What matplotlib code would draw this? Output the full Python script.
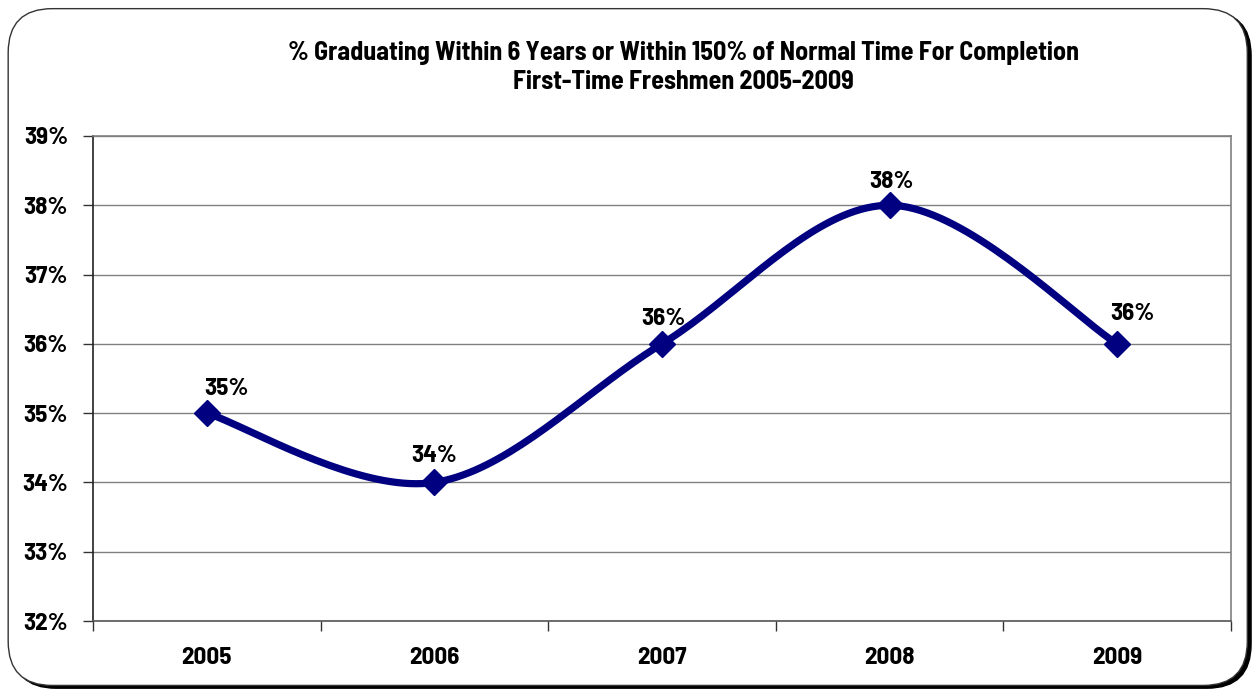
import numpy as np
import matplotlib.pyplot as plt
from matplotlib.patches import FancyBboxPatch
from matplotlib.ticker import FixedLocator, NullFormatter

# data
years = ['2005', '2006', '2007', '2008', '2009']
rates = [35, 34, 36, 38, 36]
y_ticks = [32, 33, 34, 35, 36, 37, 38, 39]
# label nudges in pixels (as placed in the original chart)
label_dx = [20, 0, 1, 2, 15]
label_dy = [24, 26, 25, 23, 30]

plt.rcParams['font.family'] = ['Liberation Sans Narrow', 'Barlow Semi Condensed', 'DejaVu Sans']
plt.rcParams['font.weight'] = 'bold'
FS = 18

fig = plt.figure(figsize=(12.58, 6.92), dpi=100)

# rounded frame with shadow
shadow = FancyBboxPatch((0.0095, 0.0055), 0.985, 0.978, boxstyle='round,pad=0,rounding_size=0.035',
                        transform=fig.transFigure, facecolor='black', edgecolor='black', zorder=0,
                        mutation_aspect=1258 / 692)
frame = FancyBboxPatch((0.0065, 0.0095), 0.985, 0.978, boxstyle='round,pad=0,rounding_size=0.035',
                       transform=fig.transFigure, facecolor='white', edgecolor='#333333', lw=1.0, zorder=1,
                       mutation_aspect=1258 / 692)
fig.patches.extend([shadow, frame])

ax = fig.add_axes([0.0739, 0.1026, 0.9046, 0.7009])
ax.set_zorder(2)
ax.patch.set_alpha(0)

x = np.arange(len(years))

# smooth curve like Excel (cubic bezier through points, catmull-rom control points)
def smooth(xs, ys, n=40):
    xs = np.asarray(xs, float)
    ys = np.asarray(ys, float)
    px, py = [], []
    for i in range(len(xs) - 1):
        p0 = np.array([xs[max(i - 1, 0)], ys[max(i - 1, 0)]])
        p1 = np.array([xs[i], ys[i]])
        p2 = np.array([xs[i + 1], ys[i + 1]])
        p3 = np.array([xs[min(i + 2, len(xs) - 1)], ys[min(i + 2, len(xs) - 1)]])
        c1 = p1 + (p2 - p0) / 6
        c2 = p2 - (p3 - p1) / 6
        t = np.linspace(0, 1, n)[:, None]
        b = (1 - t) ** 3 * p1 + 3 * (1 - t) ** 2 * t * c1 + 3 * (1 - t) * t ** 2 * c2 + t ** 3 * p2
        px.extend(b[:, 0])
        py.extend(b[:, 1])
    return np.array(px), np.array(py)

sx, sy = smooth(x, rates)
ax.plot(sx, sy, color='#000080', lw=5.2, solid_capstyle='round', zorder=3)
ax.plot(x, rates, linestyle='none', marker='D', ms=13, color='#000080', zorder=4)

for xi, r, dx, dy in zip(x, rates, label_dx, label_dy):
    ax.annotate(f'{r}%', (xi, r), xytext=(dx * 0.72, dy * 0.72), textcoords='offset points',
                ha='center', va='center', fontsize=FS, fontweight='bold')

ax.set_xlim(-0.5, len(years) - 0.5)
ax.set_ylim(32, 39)
ax.set_yticks(y_ticks)
ax.set_yticklabels([f'{t}%' for t in y_ticks])
ax.yaxis.grid(True, color='#808080', lw=1.0)
ax.set_axisbelow(True)

ax.set_xticks(x)
ax.set_xticklabels(years)
ax.tick_params(axis='x', which='major', length=0, pad=19, labelsize=FS)
ax.xaxis.set_minor_locator(FixedLocator(np.arange(-0.5, len(years), 1.0)))
ax.xaxis.set_minor_formatter(NullFormatter())
ax.tick_params(axis='x', which='minor', length=7, width=1, color='#333333', direction='out')
ax.tick_params(axis='y', length=7, width=1, color='#333333', direction='out', pad=11, labelsize=FS)

for s in ['top', 'right']:
    ax.spines[s].set_color('#808080')
    ax.spines[s].set_linewidth(1.2)
ax.spines['left'].set_color('#222222')
ax.spines['bottom'].set_color('#555555')
ax.spines['left'].set_linewidth(1.2)
ax.spines['bottom'].set_linewidth(1.2)

fig.text(0.5435, 0.9235, '% Graduating Within 6 Years or Within 150% of Normal Time For Completion',
         ha='center', va='center', fontsize=18.8, fontweight='bold')
fig.text(0.5435, 0.8815, 'First-Time Freshmen 2005-2009',
         ha='center', va='center', fontsize=18.8, fontweight='bold')

fig.savefig('out.png', dpi=100)
